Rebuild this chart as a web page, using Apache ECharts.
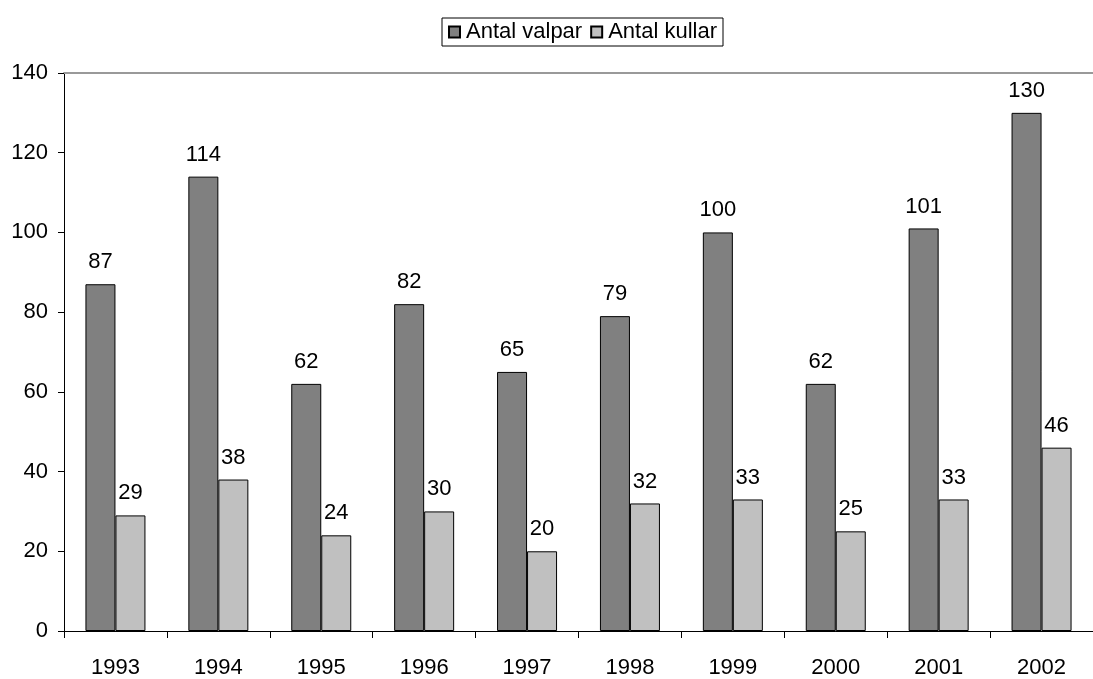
<!DOCTYPE html>
<html>
<head>
<meta charset="utf-8">
<script src="https://cdn.jsdelivr.net/npm/echarts@6/dist/echarts.min.js"></script>
<style>
  html, body { margin: 0; padding: 0; background: #fff; }
  #chart { width: 1093px; height: 679px; }
</style>
</head>
<body>
<div id="chart"></div>
<script>
// årtal och värden
var years = ['1993', '1994', '1995', '1996', '1997', '1998', '1999', '2000', '2001', '2002'];
var valpar = [87, 114, 62, 82, 65, 79, 100, 62, 101, 130];
var kullar = [29, 38, 24, 30, 20, 32, 33, 25, 33, 46];
var yTicks = [0, 20, 40, 60, 80, 100, 120, 140];

var font = 'Liberation Sans, Arial, sans-serif';
var fs = 22;

var myChart = echarts.init(document.getElementById('chart'));

function barSerie(name, data, color) {
  return {
    type: 'bar',
    name: name,
    data: data,
    barWidth: 30,
    barGap: '0%',
    itemStyle: { color: color, borderColor: '#000', borderWidth: 1 },
    label: {
      show: true,
      position: 'top',
      distance: 11,
      color: '#000',
      fontSize: fs,
      fontFamily: font
    }
  };
}

var option = {
  animation: false,
  backgroundColor: '#fff',
  textStyle: { fontFamily: font },
  legend: {
    left: 442,
    top: 18,
    padding: [2, 6, 2, 6],
    borderColor: '#000',
    borderWidth: 1,
    itemWidth: 11,
    itemHeight: 11,
    itemGap: 8,
    icon: 'rect',
    textStyle: { fontSize: fs, lineHeight: 24, color: '#000', fontFamily: font, padding: [0, 0, 0, 1] },
    data: ['Antal valpar', 'Antal kullar']
  },
  grid: { left: 64, top: 73, width: 1032, height: 559 },
  xAxis: [
    {
      type: 'category',
      data: years,
      axisLine: { lineStyle: { color: '#000', width: 1 } },
      axisTick: { show: true, interval: 0, length: 7, lineStyle: { color: '#000' } },
      axisLabel: { color: '#000', fontSize: fs, fontFamily: font, margin: 26 }
    },
    {
      type: 'category',
      position: 'top',
      data: years,
      axisLine: { lineStyle: { color: '#999', width: 2 } },
      axisTick: { show: false },
      axisLabel: { show: false }
    }
  ],
  yAxis: {
    type: 'value',
    min: yTicks[0],
    max: yTicks[yTicks.length - 1],
    interval: 20,
    axisLine: { show: true, lineStyle: { color: '#000' } },
    axisTick: { show: true, length: 6, lineStyle: { color: '#000' } },
    splitLine: { show: false },
    axisLabel: { color: '#000', fontSize: fs, fontFamily: font, margin: 16 }
  },
  series: [
    barSerie('Antal valpar', valpar, '#808080'),
    barSerie('Antal kullar', kullar, '#c0c0c0')
  ]
};

myChart.setOption(option);
</script>
</body>
</html>
